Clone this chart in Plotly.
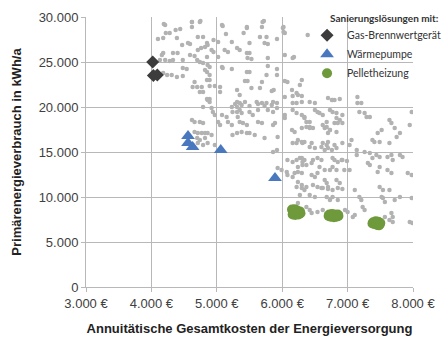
import plotly.graph_objects as go

# ---- Data: annual total cost (EUR) vs primary energy demand (kWh/a) ----
variant_cost = [
    4210,4620,4740,4620,4370,4440,4220,4280,5090,5140,4710,4790,4950,5020,4100,4180,4390,4560,4590,4850,
    4860,4470,4760,4820,4920,4950,4710,5120,5170,5230,5350,4180,4160,4330,4400,4590,4660,4850,5020,4130,
    4210,4280,4330,4480,4700,4740,4790,4860,4890,5080,5090,5230,4480,4540,4820,4850,4180,4240,4310,4890,
    4390,4480,4660,4850,4890,4630,4700,4770,4890,4970,5050,4740,4790,5050,5310,4850,4890,4790,5310,
    4190,4620,4750,5080,5460,5720,6010,6040,
    5460,5410,5700,5690,5660,5760,5920,5500,5730,5780,5310,5460,5500,5470,5530,5780,6020,6020,6390,6040,
    6180,5460,5500,5780,5760,5920,5920,5430,5470,5690,5660,5530,5840,5870,5350,6040,6080,6160,6240,6300,
    6040,6700,6770,5280,5380,5500,5630,5730,5840,
    6160,6300,6270,6150,6220,6760,6800,6880,7150,7150,7210,6160,6220,6300,6340,6570,6620,6730,6770,6830,
    6920,7180,7260,7290,7640,7670,6830,6880,6920,6420,6470,6620,6680,6730,6830,7520,7460,6240,6340,6450,
    6600,6680,6800,6830,7750,7800,7950,7380,7490,7140,7260,7340,7440,6270,6340,6470,6770,6910,7380,7490,
    7840,
    6770,6730,6830,6950,7030,7310,7340,7490,7460,7610,7670,7920,7980,6650,6680,6830,6880,6600,6700,6770,
    6850,6920,7110,7490,7540,7640,6680,6730,6850,7180,7210,7520,7540,7570,7720,7800,7980,7230,7260,7670,
    7690,7570,7950,7990,7110,7080,
    7340,7980,6680,6800,6850,6700,7720,7410,7640,7060,7030,6920,6650,6700,6800,6850,6920,6990,7140,7610,
    7670,7690,7800,
    5310,5350,5430,5610,5690,5760,5860,5920,6160,6220,6300,6420,6500,5350,5380,5320,5500,5550,5630,5780,
    5860,5920,6040,6040,6340,6370,6420,6500,6540,5350,5400,5460,5630,5690,5860,5890,6150,6190,6300,6370,
    6420,6650,6730,5380,5460,5500,5580,5730,5930,6160,6220,6300,6310,6420,6500,6620,6700,6760,5860,5920,
    6080,6160,6220,6300,6310,6370,6450,6540,6600,5990,6070,6080,6190,6240,6300,6450,6500,6540,6240,6300,
    6370,6470,6540,6620,6700,5930,6770,
    6160,6240,6310,6570,6650,6220,6300,6340,6270,6420,6500,6370,6420,6450,6540,6620,6240,6960,7000,7640,
    7690,
    4860,4890,4920,4940,4970,5080,5150,5020,5050,5230,5240,5310,5170,5230,5310,5240,4620,4660,4740,4790,
    4660,4710,4770,4820,4860,4920,4700,4740,4820,4710,4790,4860,4970,4630,
]
variant_energy = [
    29100,29440,29440,28900,28550,28660,28220,28220,29000,28110,27780,27780,27440,27220,27550,27660,27660,27110,27000,27110,
    26890,26890,26550,26660,26330,26110,26330,26330,26110,27220,26330,26000,25780,26000,26000,25780,25660,25550,25550,25220,
    25220,25110,25220,25220,25220,25000,24890,24660,24440,24440,24330,24220,24330,24220,24110,23890,23780,23550,23550,23550,
    23330,23440,22780,23000,23000,22220,22220,22220,22330,22330,22220,21660,21660,21660,21890,20890,20890,20000,20000,
    29220,29440,29550,29110,28770,29550,28770,28220,
    28890,28220,29440,28890,27780,27780,27550,27110,27110,27000,26550,26000,26000,25440,25330,25440,28890,28330,28000,25780,
    25550,23890,23890,24550,23550,24220,23550,22890,22890,22780,22110,22110,21780,21890,21330,22890,22780,21220,21330,21220,
    21110,21000,20780,20330,20220,20110,20330,20110,20220,
    25440,23000,22440,21890,21550,20780,20780,20890,21110,20440,20440,19670,19330,19110,18890,19330,19110,19670,19440,19330,
    19110,19440,19330,18890,18550,18220,18780,18550,18220,17780,17660,18000,17780,17440,17220,17440,17110,16330,16110,16000,
    15550,15780,15780,15440,16660,17110,18000,16330,16110,15220,15000,14890,14670,14330,14110,14110,14330,14110,14330,14440,
    14440,
    13330,13000,13000,13000,13000,13780,13550,13330,12780,13000,12670,12670,12440,11890,11550,11890,11550,11000,10890,10780,
    11000,10890,10780,11110,10780,10780,10000,9670,9670,10000,9670,10000,9890,9440,9670,10000,9890,8890,8550,8220,
    7780,7780,7220,7110,8000,7780,
    18890,19440,18330,18220,18220,17110,17660,16110,16000,16330,15780,16000,15220,15440,14110,13890,14110,14000,14670,14440,
    14670,14110,14670,
    20550,20440,20550,20550,20440,20440,20550,20440,20440,20440,20550,20550,20440,19670,19330,18890,19440,19110,19670,19670,
    19440,19890,19110,18780,18780,18330,18330,19670,19440,18330,18220,18000,18330,18220,18000,18220,17440,17220,17660,17780,
    17660,17660,17440,17220,17110,17110,16890,16550,16660,16000,16000,16110,16000,15550,15440,16000,16110,15220,15000,15220,
    14110,13890,14110,14330,13890,13550,13780,14330,14110,13000,12780,12440,12670,12780,12670,12440,12220,12670,11670,11330,
    11110,11330,11110,11000,11110,13220,10000,
    12220,13330,13550,13330,13000,11110,11000,10780,10220,10220,10000,8890,8550,8220,8330,8550,9330,8550,8330,7440,
    7220,
    20780,20550,19890,19440,19110,19110,18890,18330,18000,20000,19440,19440,18330,18000,17110,16890,18550,18330,18330,18220,
    17220,17110,17110,17110,17110,16890,16550,16330,16550,16000,15780,16000,15780,15780,
]

gas_cost = [4020, 4030, 4090]
gas_energy = [25000, 23500, 23550]

hp_cost = [4560, 4560, 4630, 5060, 5890]
hp_energy = [16780, 16000, 15560, 15220, 12100]

pellet_cost = [6150, 6190, 6230, 6270, 6170, 6220, 6260, 6160, 6200, 6250, 6280, 6180,
               6720, 6760, 6800, 6840, 6860, 6740, 6790, 6830, 6710, 6850,
               7390, 7430, 7470, 7500, 7410, 7450, 7490, 7380, 7440, 7480]
pellet_energy = [8600, 8650, 8500, 8400, 8250, 8300, 8150, 8050, 8000, 8050, 8200, 8450,
                 8050, 8100, 8050, 8000, 7900, 7800, 7750, 7800, 7900, 8050,
                 7200, 7300, 7250, 7100, 7000, 6900, 6950, 7050, 7150, 6850]

x_ticks = [3000, 4000, 5000, 6000, 7000, 8000]
x_labels = ["3.000 €", "4.000 €", "5.000 €", "6.000 €", "7.000 €", "8.000 €"]
y_ticks = [0, 5000, 10000, 15000, 20000, 25000, 30000]
y_labels = ["0", "5.000", "10.000", "15.000", "20.000", "25.000", "30.000"]

x_title = "Annuitätische Gesamtkosten der Energieversorgung"
y_title = "Primärenergieverbrauch in kWh/a"
legend_title = "Sanierungslösungen mit:"
names = ["Gas-Brennwertgerät", "Wärmepumpe", "Pelletheizung"]

fig = go.Figure()
fig.add_trace(go.Scatter(x=variant_cost, y=variant_energy, mode="markers", showlegend=False,
                         marker=dict(color="#b2b2b2", size=4.5), hoverinfo="skip"))
fig.add_trace(go.Scatter(x=gas_cost, y=gas_energy, mode="markers", name=names[0],
                         marker=dict(color="#3c3c3c", size=10, symbol="diamond")))
fig.add_trace(go.Scatter(x=hp_cost, y=hp_energy, mode="markers", name=names[1],
                         marker=dict(color="#4a78bf", size=12, symbol="triangle-up")))
fig.add_trace(go.Scatter(x=pellet_cost, y=pellet_energy, mode="markers", name=names[2],
                         marker=dict(color="#6f9a3c", size=10, symbol="circle")))

axis_font = dict(family="Liberation Sans, Arial, sans-serif", size=13, color="#404040")
title_font = dict(family="Liberation Sans, Arial, sans-serif", size=13, color="#222222")
legend_font = dict(family="Lato, Open Sans, sans-serif", size=10.5, color="#333333")
legend_title_font = dict(family="Lato, Open Sans, sans-serif", size=10, color="#333333")

# white legend panel covering the grid in the upper right corner
fig.add_shape(type="rect", xref="x", yref="y", x0=6440, x1=8200, y0=20950, y1=31000,
              fillcolor="white", line=dict(width=0), layer="below")

fig.add_annotation(xref="paper", yref="paper", x=0.741, y=0.996, xanchor="left", yanchor="middle",
                   text="<b>" + legend_title + "</b>", showarrow=False, font=legend_title_font)

fig.update_layout(
    width=447, height=337,
    margin=dict(l=86, r=34, t=17, b=50, autoexpand=False),
    paper_bgcolor="white", plot_bgcolor="white",
    legend=dict(x=0.676, y=0.986, xanchor="left", yanchor="top",
                bgcolor="rgba(0,0,0,0)", borderwidth=0,
                traceorder="normal", font=legend_font,
                itemwidth=30, tracegroupgap=0),
    xaxis=dict(range=[3000, 8000], tickvals=x_ticks, ticktext=x_labels,
               showgrid=True, gridcolor="#b8b8b8", gridwidth=1,
               showline=True, linecolor="#b8b8b8", ticks="outside", ticklen=4, tickcolor="#b8b8b8",
               tickfont=axis_font, zeroline=False,
               title=dict(text="<b>" + x_title + "</b>", font=title_font, standoff=14)),
    yaxis=dict(range=[0, 30000], tickvals=y_ticks, ticktext=y_labels,
               showgrid=True, gridcolor="#b8b8b8", gridwidth=1,
               showline=True, linecolor="#b8b8b8", ticks="outside", ticklen=4, tickcolor="#b8b8b8",
               tickfont=axis_font, zeroline=False,
               title=dict(text="<b>" + y_title + "</b>", font=title_font, standoff=14)),
)

fig.write_html("out.html", config={"displayModeBar": False},
               post_script="document.body.style.margin='0';")
